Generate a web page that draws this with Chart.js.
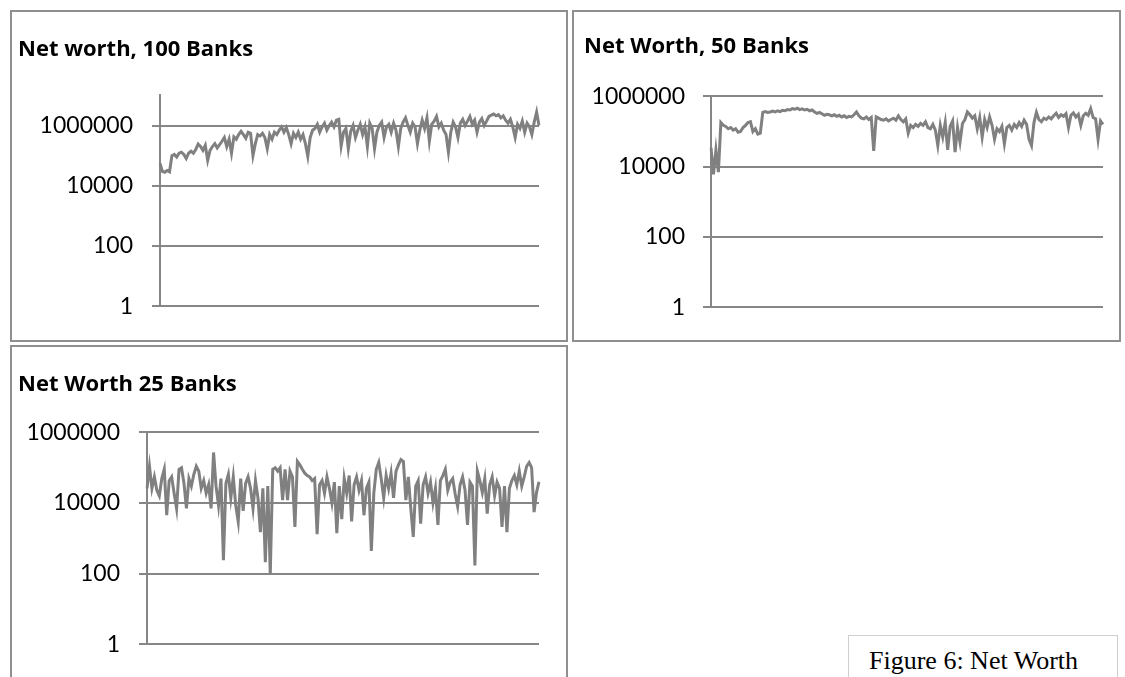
<!DOCTYPE html>
<html>
<head>
<meta charset="utf-8">
<script src="https://cdn.jsdelivr.net/npm/chart.js@4/dist/chart.umd.min.js"></script>
<style>
  body { margin: 0; background: #fff; width: 1125px; height: 677px; overflow: hidden; position: relative; }
  .box { position: absolute; box-sizing: border-box; border: 2px solid #8f8f8f; }
  canvas { position: absolute; }
  .caption {
    position: absolute; left: 848px; top: 635px; width: 270px; height: 60px;
    box-sizing: border-box; border: 1.5px solid #cfcfcf;
    font-family: "Liberation Serif", "Times New Roman", serif; font-size: 26px; line-height: 26px; color: #000;
    padding: 12px 0 0 20px; white-space: nowrap;
  }
</style>
</head>
<body>
<div class="box" style="left:10px;top:10px;width:558px;height:332px"></div>
<div class="box" style="left:572px;top:10px;width:549px;height:332px"></div>
<div class="box" style="left:10px;top:345px;width:558px;height:345px"></div>
<canvas id="chart100" width="553" height="327" style="left:12px;top:12px"></canvas>
<canvas id="chart50" width="543" height="327" style="left:575px;top:12px"></canvas>
<canvas id="chart25" width="553" height="330" style="left:12px;top:347px"></canvas>
<div class="caption">Figure 6: Net Worth</div>

<script>
// tick labels on the log axis
const tickValues = [1, 100, 10000, 1000000];

// net worth, 100 banks
const netWorth100 = [
  5.5e4, 3e4, 2.8e4, 3.2e4, 2.9e4, 1e5, 1.1e5, 9e4, 1.2e5, 1.3e5,
  1.1e5, 8e4, 1.2e5, 1.4e5, 1.2e5, 1.6e5, 2.4e5, 2e5, 1.5e5, 2.2e5,
  7e4, 1.5e5, 2e5, 2.5e5, 1.8e5, 2.3e5, 3e5, 4e5, 2e5, 3.5e5,
  1.2e5, 4.2e5, 3.5e5, 5e5, 6.4e5, 5e5, 3.8e5, 6e5, 5.5e5, 1e5,
  2.5e5, 5e5, 4.5e5, 5.5e5, 4e5, 1.7e5, 5e5, 3.5e5, 6e5, 5e5,
  7e5, 9e5, 6e5, 8.5e5, 5e5, 2.5e5, 5.5e5, 4e5, 6e5, 3.5e5,
  5e5, 2.5e5, 9.5e4, 4e5, 7e5, 8e5, 1.1e6, 6e5, 9e5, 1.2e6,
  7e5, 1e6, 1.3e6, 9e5, 1.5e6, 1.6e6, 2.1e5, 6e5, 8e5, 1.7e5,
  6.4e5, 1e6, 4e5, 7e5, 1.1e6, 5e5, 9e5, 2e5, 1.2e6, 8e5,
  1.7e5, 6e5, 1e6, 1.3e6, 4e5, 9e5, 1.1e6, 6e5, 1.2e6, 7e5,
  2e5, 8e5, 1.3e6, 1.8e6, 1e6, 6e5, 1.2e6, 9e5, 2.5e5, 7e5,
  1.5e6, 8e5, 1.8e6, 3e5, 1.1e6, 1.4e6, 2e6, 9e5, 1.2e6, 7e5,
  5e5, 1.3e5, 6e5, 1.3e6, 9e5, 4e5, 1.2e6, 1.6e6, 1e6, 1.4e6,
  2e6, 1.1e6, 1.5e6, 6e5, 1.3e6, 1.7e6, 1e6, 1.4e6, 2e6, 2.2e6,
  2.4e6, 2.1e6, 2.3e6, 1.8e6, 2.1e6, 1.5e6, 1.2e6, 1.6e6, 9e5, 4e5,
  1.1e6, 8e5, 1.4e6, 6e5, 1.2e6, 9e5, 5e5, 1.3e6, 2.8e6, 1e6
];

// net worth, 50 banks
const netWorth50 = [
  3.5e4, 6e3, 3e4, 7e3, 1.8e5, 1.5e5, 1.4e5, 1.2e5, 1.3e5, 1.1e5,
  1.2e5, 9.5e4, 1e5, 1.3e5, 1.5e5, 1.8e5, 1.9e5, 1e5, 1.2e5, 8.5e4,
  9e4, 3.5e5, 3.7e5, 3.5e5, 3.6e5, 3.8e5, 3.6e5, 3.9e5, 3.7e5, 4e5,
  3.9e5, 4.2e5, 4.1e5, 4.5e5, 4.3e5, 4.6e5, 4.2e5, 4.4e5, 4.1e5, 4.3e5,
  3.9e5, 4.1e5, 3.6e5, 3.3e5, 3.5e5, 3.2e5, 2.9e5, 3.1e5, 3e5, 2.8e5,
  3e5, 2.7e5, 2.9e5, 2.6e5, 2.8e5, 2.5e5, 2.7e5, 2.6e5, 3e5, 3.6e5,
  2.8e5, 2.4e5, 2.3e5, 2.6e5, 2.2e5, 2.5e5, 2.8e4, 2.6e5, 2.4e5, 2.2e5,
  2.1e5, 2.3e5, 2e5, 2.2e5, 2.4e5, 2.1e5, 2.8e5, 2.2e5, 1.9e5, 2.3e5,
  9e4, 1.5e5, 1.3e5, 1.6e5, 1.4e5, 1.7e5, 1.5e5, 1.9e5, 1.3e5, 1.2e5,
  1.6e5, 1.1e5, 4e4, 1.5e5, 7e4, 1.8e5, 3e4, 1.4e5, 2e5, 2.6e4,
  1.3e5, 5e4, 1.7e5, 2.2e5, 3.6e5, 3e5, 2.4e5, 2.8e5, 1.2e5, 2.5e5,
  7e4, 2.2e5, 1.3e5, 2.6e5, 1.5e5, 6e4, 1.2e5, 1e5, 1.4e5, 4.5e4,
  1.3e5, 1.5e5, 1.1e5, 1.6e5, 1.3e5, 1.8e5, 1.4e5, 2.1e5, 1.6e5, 6e4,
  4e4, 1.8e5, 3.5e5, 2.2e5, 1.9e5, 2.4e5, 2.2e5, 2.6e5, 2.3e5, 2.8e5,
  3.3e5, 2.5e5, 3e5, 2.7e5, 3.2e5, 1.3e5, 2.9e5, 3.4e5, 2.6e5, 3.1e5,
  1.5e5, 2.8e5, 3.3e5, 2.9e5, 4.5e5, 2.5e5, 2.3e5, 6e4, 2e5, 1.6e5
];

// net worth, 25 banks
const netWorth25 = [
  2.6e4, 1.1e5, 2.6e4, 5.5e4, 2.3e4, 1.6e4, 4.9e4, 9e4, 4.5e3, 4.3e4,
  5.5e4, 1.9e4, 7e3, 9e4, 1e5, 3.6e4, 7e3, 4.9e4, 3e4, 6.5e4,
  1.1e5, 8e4, 2.6e4, 4.3e4, 1.9e4, 3.3e4, 7e3, 2.7e5, 3e4, 8.5e3,
  4.9e4, 240, 3.6e4, 6.5e4, 1.4e4, 5.5e4, 8.5e3, 3e3, 4.9e4, 6e3,
  3.6e4, 5.5e4, 2.6e4, 7e3, 4.3e4, 1.4e4, 1.5e3, 2.6e4, 210, 3e4,
  100, 9e4, 1e5, 8e4, 1e5, 1.2e4, 9e4, 1.2e4, 8e4, 5.5e4,
  2.1e3, 1.5e5, 1.2e5, 9e4, 7e4, 6e4, 5.5e4, 4.3e4, 4.9e4, 1.3e3,
  3.3e4, 4.3e4, 1.9e4, 5.5e4, 2.6e4, 1e4, 3.9e4, 1.4e3, 3e4, 3.5e3,
  4.9e4, 1.9e4, 6e4, 3e3, 3.3e4, 5.5e4, 2.3e4, 4.3e4, 4.5e3, 2.6e4,
  3.9e4, 440, 1.9e4, 9e4, 1.4e5, 4.9e4, 1.4e4, 6e4, 2.6e4, 7e4,
  1.4e4, 8e4, 1.2e5, 1.7e5, 1.5e5, 1.2e4, 5.5e4, 7e3, 1.1e3, 3e4,
  4.3e4, 2.6e3, 3.3e4, 5.5e4, 1.9e4, 3.9e4, 1e4, 2.6e4, 2.4e3, 4.3e4,
  6e4, 9e4, 2.3e4, 3.9e4, 4.9e4, 1.8e4, 8e3, 3.3e4, 5.5e4, 2.3e4,
  2.4e3, 3.9e4, 3e4, 170, 8e4, 4.3e4, 2e4, 4.9e4, 5e3, 3.3e4,
  5.5e4, 1.6e4, 3.9e4, 2.6e4, 2.1e3, 3e4, 1.5e3, 2.6e4, 4.3e4, 6e4,
  3.3e4, 8e4, 3e4, 5.5e4, 1.1e5, 1.4e5, 1e5, 5.5e3, 2e4, 4e4
];

Chart.defaults.font.family = 'Lato, "Open Sans", sans-serif';
Chart.defaults.color = '#000';

const gray = '#868686';

function makeChart(id, title, values, opts) {
  const labels = values.map((v, i) => i + 1);
  return new Chart(document.getElementById(id), {
    type: 'line',
    data: {
      labels: labels,
      datasets: [{
        data: values,
        borderColor: '#808080',
        borderWidth: 3,
        pointRadius: 0,
        tension: 0,
        fill: false
      }]
    },
    options: {
      responsive: false,
      animation: false,
      devicePixelRatio: 1,
      layout: { padding: opts.padding },
      plugins: {
        legend: { display: false },
        tooltip: { enabled: false },
        title: {
          display: true,
          text: title,
          align: 'start',
          color: '#000',
          font: { family: '"Open Sans", Lato, sans-serif', size: 22, weight: 'bold' },
          padding: opts.titlePadding
        }
      },
      scales: {
        x: { display: false },
        y: {
          type: 'logarithmic',
          min: 1,
          max: opts.max,
          afterBuildTicks: (scale) => { scale.ticks = tickValues.map(v => ({ value: v })); },
          afterFit: (scale) => { scale.width = opts.axisWidth; },
          ticks: {
            padding: opts.tickPadding,
            font: { size: 23 },
            color: '#000',
            callback: (v) => String(v)
          },
          grid: { color: gray, lineWidth: 2, tickLength: 8, drawTicks: true },
          border: { display: true, color: gray, width: 2 }
        }
      }
    }
  });
}

makeChart('chart100', 'Net worth, 100 Banks', netWorth100, {
  max: 1e7, axisWidth: 142, tickPadding: 19,
  padding: { left: 6, right: 26, top: 0, bottom: 26 },
  titlePadding: { top: 25, bottom: 32 }
});

makeChart('chart50', 'Net Worth, 50 Banks', netWorth50, {
  max: 1e6, axisWidth: 127, tickPadding: 18,
  padding: { left: 9, right: 15, top: 0, bottom: 27 },
  titlePadding: { top: 22, bottom: 36 }
});

makeChart('chart25', 'Net Worth 25 Banks', netWorth25, {
  max: 1e6, axisWidth: 129, tickPadding: 19,
  padding: { left: 6, right: 26, top: 0, bottom: 25 },
  titlePadding: { top: 25, bottom: 34 }
});
</script>
</body>
</html>
